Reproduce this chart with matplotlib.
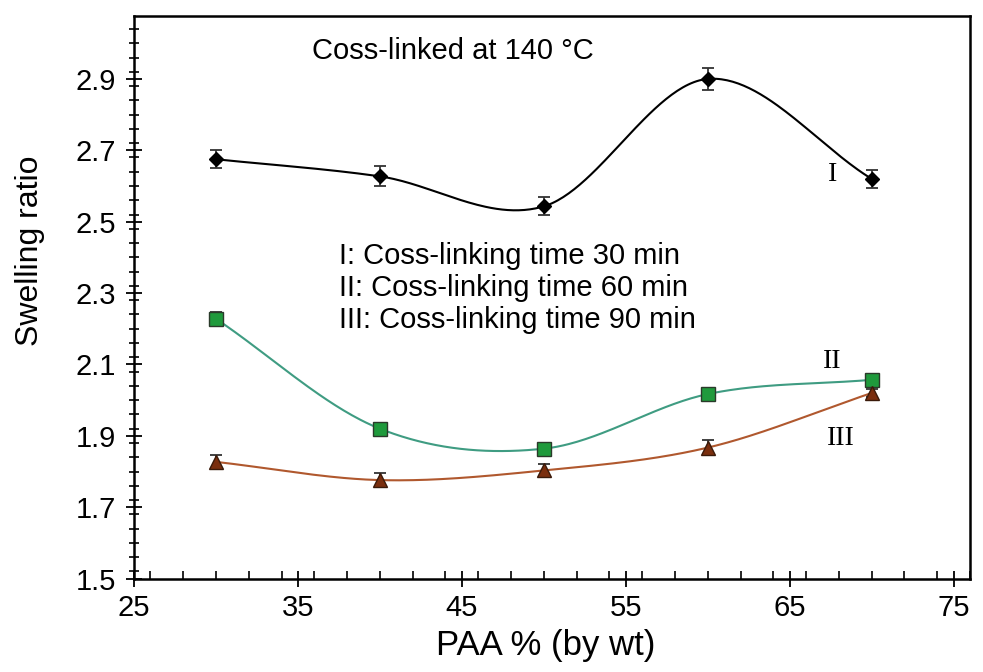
import numpy as np
import matplotlib
matplotlib.use("Agg")
import matplotlib.pyplot as plt
from matplotlib.ticker import MultipleLocator

# ---- data ----
paa = [30, 40, 50, 60, 70]
swell_I = [2.675, 2.627, 2.543, 2.900, 2.620]
err_I = [0.025, 0.028, 0.025, 0.032, 0.025]
swell_II = [2.228, 1.920, 1.864, 2.017, 2.057]
err_II = [0.020, 0.015, 0.015, 0.015, 0.015]
swell_III = [1.827, 1.776, 1.803, 1.867, 2.020]
err_III = [0.020, 0.020, 0.018, 0.020, 0.010]

xticks = [25, 35, 45, 55, 65, 75]
yticks = [1.5, 1.7, 1.9, 2.1, 2.3, 2.5, 2.7, 2.9]

title_text = "Coss-linked at 140 °C"
legend_lines = ["I: Coss-linking time 30 min",
                "II: Coss-linking time 60 min",
                "III: Coss-linking time 90 min"]


def smooth_curve(x, y, n=60):
    """Catmull-Rom style smoothed line (like spreadsheet 'smoothed line')."""
    x = np.asarray(x, float)
    y = np.asarray(y, float)
    m = len(x)
    d = np.empty(m)
    d[0] = (y[1] - y[0]) / (x[1] - x[0])
    d[-1] = (y[-1] - y[-2]) / (x[-1] - x[-2])
    for i in range(1, m - 1):
        d[i] = (y[i + 1] - y[i - 1]) / (x[i + 1] - x[i - 1])
    xs_all, ys_all = [], []
    for i in range(m - 1):
        h = x[i + 1] - x[i]
        t = np.linspace(0, 1, n)
        h00 = 2 * t ** 3 - 3 * t ** 2 + 1
        h10 = t ** 3 - 2 * t ** 2 + t
        h01 = -2 * t ** 3 + 3 * t ** 2
        h11 = t ** 3 - t ** 2
        xs_all.append(x[i] + t * h)
        ys_all.append(h00 * y[i] + h10 * h * d[i] + h01 * y[i + 1]
                      + h11 * h * d[i + 1])
    return np.concatenate(xs_all), np.concatenate(ys_all)


plt.rcParams['font.family'] = ['Liberation Sans', 'DejaVu Sans']

fig = plt.figure(figsize=(9.83, 6.72), dpi=100)
ax = fig.add_axes([0.1363, 0.1390, 0.8505, 0.8370])

series = [
    (swell_I, err_I, "black", "D", "black", "black", 7.5),
    (swell_II, err_II, "#3f9c82", "s", "#1f9a3c", "#2a3a2a", 10),
    (swell_III, err_III, "#b0582e", "^", "#7a2e0e", "#3a1a0a", 10),
]
for ys, es, lc, mk, fc, ec, ms in series:
    xs_s, ys_s = smooth_curve(paa, ys)
    ax.plot(xs_s, ys_s, color=lc, lw=1.5, zorder=2)
    ax.errorbar(paa, ys, yerr=es, fmt='none', ecolor="#333333",
                elinewidth=1.3, capsize=4, capthick=1.3, zorder=3)
    ax.plot(paa, ys, linestyle='none', marker=mk, markersize=ms,
            markerfacecolor=fc, markeredgecolor=ec, markeredgewidth=1.0,
            zorder=4)

ax.set_xlim(25, 76)
ax.set_ylim(1.5, 3.076)
ax.set_xticks(xticks)
ax.set_yticks(yticks)
ax.set_xticklabels([str(v) for v in xticks])
ax.set_yticklabels([f"{v:.1f}" for v in yticks])
ax.xaxis.set_minor_locator(MultipleLocator(2))
ax.yaxis.set_minor_locator(MultipleLocator(0.04))

ax.tick_params(axis='x', which='major', direction='inout', length=12,
               width=1.3, labelsize=21, pad=5)
ax.tick_params(axis='x', which='minor', direction='in', length=6, width=1.2)
ax.tick_params(axis='y', which='major', direction='inout', length=12,
               width=1.3, labelsize=21, pad=7)
ax.tick_params(axis='y', which='minor', direction='inout', length=7, width=1.2)

for sp in ax.spines.values():
    sp.set_linewidth(1.8)
    sp.set_color("black")

ax.set_xlabel("PAA % (by wt)", fontsize=25)
ax.xaxis.set_label_coords(0.492, -0.090)
ax.set_ylabel("Swelling ratio", fontsize=23)
ax.yaxis.set_label_coords(-0.107, 0.582)

ax.text(35.85, 2.978, title_text, fontsize=21, ha='left', va='center')
for i, line in enumerate(legend_lines):
    ax.text(37.5, 2.405 - i * 0.09, line, fontsize=21, ha='left',
            va='center')

serif = ['Liberation Serif', 'DejaVu Serif']
ax.text(67.6, 2.632, "I", fontsize=20, family=serif, ha='center',
        va='center')
ax.text(67.6, 2.108, "II", fontsize=20, family=serif, ha='center',
        va='center')
ax.text(68.1, 1.892, "III", fontsize=20, family=serif, ha='center',
        va='center')

fig.savefig("out.png", dpi=100)
